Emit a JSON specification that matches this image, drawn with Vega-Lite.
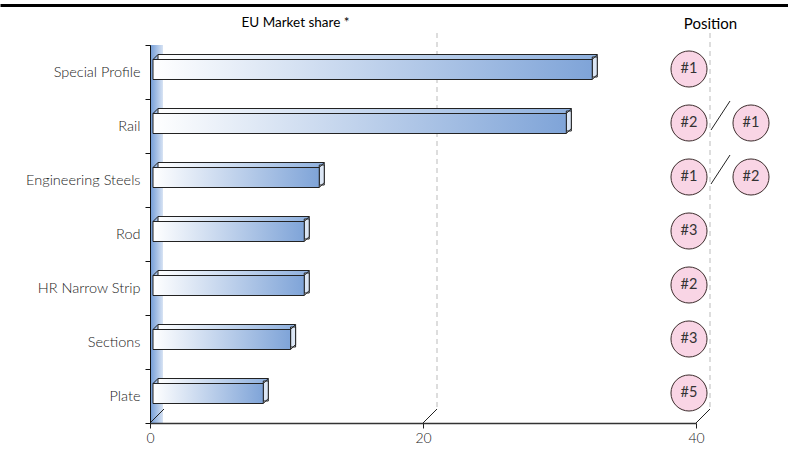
{
  "$schema": "https://vega.github.io/schema/vega-lite/v6.json",
  "width": 546,
  "height": 378,
  "autosize": {"type": "none"},
  "padding": {"left": 150, "top": 45, "right": 92, "bottom": 30},
  "background": "white",
  "config": {"font": "Lato", "view": {"stroke": null}},
  "datasets": {
    "bars": [
      {"cat": "Special  Profile", "share": 32.4},
      {"cat": "Rail", "share": 30.5},
      {"cat": "Engineering Steels", "share": 12.4},
      {"cat": "Rod ", "share": 11.3},
      {"cat": "HR Narrow Strip", "share": 11.3},
      {"cat": "Sections", "share": 10.3},
      {"cat": "Plate", "share": 8.3}
    ],
    "positions": [
      {"cat": "Special  Profile", "col": 1, "label": "#1"},
      {"cat": "Rail", "col": 1, "label": "#2"},
      {"cat": "Rail", "col": 2, "label": "#1"},
      {"cat": "Engineering Steels", "col": 1, "label": "#1"},
      {"cat": "Engineering Steels", "col": 2, "label": "#2"},
      {"cat": "Rod ", "col": 1, "label": "#3"},
      {"cat": "HR Narrow Strip", "col": 1, "label": "#2"},
      {"cat": "Sections", "col": 1, "label": "#3"},
      {"cat": "Plate", "col": 1, "label": "#5"}
    ],
    "grid": [{"v": 20}, {"v": 40}],
    "floor": [{"v": 0}, {"v": 20}, {"v": 40}]
  },
  "layer": [
    {
      "data": {"values": [{}]},
      "mark": {"type": "rule", "opacity": 0},
      "encoding": {
        "x": {
          "datum": 0,
          "type": "quantitative",
          "scale": {"domain": [0, 1], "range": [-150, 638], "nice": false, "zero": false},
          "axis": {
            "orient": "top", "offset": 40, "domainWidth": 3, "domainColor": "#000000",
            "ticks": false, "labels": false, "grid": false,
            "title": "EU Market share *", "titleX": 145, "titleY": 17,
            "titleAlign": "center", "titleBaseline": "middle",
            "titleFont": "Lato", "titleFontSize": 13.5, "titleFontWeight": "normal", "titleColor": "#000000"
          }
        }
      }
    },
    {
      "layer": [
        {
          "data": {"values": [{}]},
          "mark": {
            "type": "rect",
            "fill": {"x1": 0, "y1": 0, "x2": 1, "y2": 0, "gradient": "linear",
              "stops": [{"offset": 0, "color": "#6f9ad6"}, {"offset": 1, "color": "#d6e2f3"}]}
          },
          "encoding": {
            "x": {"datum": 0, "type": "quantitative"},
            "x2": {"datum": 0.95}
          }
        },
        {
          "data": {"name": "grid"},
          "mark": {"type": "rule", "color": "#bbbbbb", "strokeDash": [5, 4], "xOffset": 14, "x2Offset": 14, "yOffset": -12, "y2Offset": -14},
          "encoding": {
            "x": {"field": "v", "type": "quantitative"},
            "y": {"datum": "Special  Profile", "type": "nominal", "bandPosition": 0},
            "y2": {"datum": "Plate", "bandPosition": 1}
          }
        },
        {
          "data": {"name": "floor"},
          "mark": {"type": "rule", "color": "#222222", "x2Offset": 14, "y2Offset": -14},
          "encoding": {
            "x": {"field": "v", "type": "quantitative"},
            "x2": {"field": "v"},
            "y": {"datum": "Plate", "type": "nominal", "bandPosition": 1},
            "y2": {"datum": "Plate", "bandPosition": 1}
          }
        },
        {
          "data": {"name": "bars"},
          "mark": {
            "type": "bar", "height": 20, "yOffset": -7.5, "xOffset": 5, "x2Offset": 8,
            "stroke": "#222222", "strokeWidth": 1,
            "fill": {"x1": 0, "y1": 0, "x2": 1, "y2": 0, "gradient": "linear",
              "stops": [{"offset": 0, "color": "#ffffff"}, {"offset": 1, "color": "#8eb0de"}]}
          },
          "encoding": {
            "x": {
              "field": "share", "type": "quantitative",
              "scale": {"domain": [0, 40], "nice": false},
              "axis": {
                "orient": "bottom", "values": [0, 20, 40], "grid": false, "title": null,
                "zindex": 1, "domain": true, "domainWidth": 1.5, "labelFlush": false,
                "tickSize": 5, "domainColor": "#333333", "tickColor": "#222222",
                "labelFont": "Lato", "labelFontSize": 14, "labelFontWeight": 300, "labelColor": "#222222", "labelPadding": 3
              }
            },
            "x2": {"datum": 0},
            "y": {
              "field": "cat", "type": "nominal",
              "scale": {
                "domain": ["Special  Profile", "Rail", "Engineering Steels", "Rod ", "HR Narrow Strip", "Sections", "Plate"],
                "paddingInner": 0, "paddingOuter": 0
              },
              "axis": {
                "title": null, "tickBand": "extent", "tickSize": 5, "zindex": 1,
                "domain": true, "domainWidth": 1,
                "domainColor": "#111111", "tickColor": "#111111",
                "labelFont": "Lato", "labelFontSize": 14.5, "labelFontWeight": 300, "labelColor": "#1a1a1a", "labelPadding": 5
              }
            }
          }
        },
        {
          "data": {"name": "bars"},
          "mark": {"type": "bar", "height": 20, "yOffset": -5, "x2Offset": 5, "fill": "#dbe6f5", "stroke": "#222222", "strokeWidth": 1},
          "encoding": {
            "x": {"field": "share", "type": "quantitative"},
            "x2": {"field": "share"},
            "y": {"field": "cat", "type": "nominal"}
          }
        },
        {
          "data": {"name": "bars"},
          "mark": {
            "type": "bar", "height": 20, "yOffset": -2.5, "x2Offset": 3,
            "stroke": "#222222", "strokeWidth": 1,
            "fill": {"x1": 0, "y1": 0, "x2": 1, "y2": 0, "gradient": "linear",
              "stops": [{"offset": 0, "color": "#ffffff"}, {"offset": 1, "color": "#7fa4d8"}]}
          },
          "encoding": {
            "x": {"field": "share", "type": "quantitative"},
            "x2": {"datum": 0},
            "y": {"field": "cat", "type": "nominal"}
          }
        },
        {
          "data": {"name": "bars"},
          "mark": {"type": "rule", "color": "#222222", "x2Offset": 5, "yOffset": -12.5, "y2Offset": -17.5},
          "encoding": {
            "x": {"field": "share", "type": "quantitative"},
            "x2": {"field": "share"},
            "y": {"field": "cat", "type": "nominal"},
            "y2": {"field": "cat"}
          }
        },
        {
          "data": {"name": "bars"},
          "mark": {"type": "rule", "color": "#222222", "x2Offset": 5, "yOffset": 7.5, "y2Offset": 2.5},
          "encoding": {
            "x": {"field": "share", "type": "quantitative"},
            "x2": {"field": "share"},
            "y": {"field": "cat", "type": "nominal"},
            "y2": {"field": "cat"}
          }
        },
        {
          "data": {"name": "bars"},
          "mark": {"type": "rule", "color": "#222222", "xOffset": 3, "x2Offset": 8, "yOffset": -12.5, "y2Offset": -17.5},
          "encoding": {
            "x": {"datum": 0, "type": "quantitative"},
            "x2": {"datum": 0},
            "y": {"field": "cat", "type": "nominal"},
            "y2": {"field": "cat"}
          }
        }
      ]
    },
    {
      "data": {"name": "positions"},
      "layer": [
        {
          "transform": [{"filter": "datum.col == 2"}],
          "mark": {"type": "rule", "color": "#222222", "xOffset": -9, "x2Offset": 10, "yOffset": 4, "y2Offset": -25},
          "encoding": {
            "x": {"datum": 1.5, "type": "quantitative"},
            "x2": {"datum": 1.5},
            "y": {"field": "cat", "type": "nominal"},
            "y2": {"field": "cat"}
          }
        },
        {
          "mark": {"type": "point", "shape": "circle", "filled": true, "size": 1300, "fill": "#f9d5e5", "stroke": "#3b2b2b", "strokeWidth": 1, "opacity": 1, "yOffset": -3},
          "encoding": {
            "x": {
              "field": "col", "type": "quantitative",
              "scale": {"domain": [1, 2], "range": [539, 601], "nice": false, "zero": false},
              "axis": {
                "orient": "top", "domain": false, "ticks": false, "labels": false, "grid": false,
                "title": "Position", "titleX": 560, "titleY": -22,
                "titleAlign": "center", "titleBaseline": "middle",
                "titleFont": "Lato", "titleFontSize": 15, "titleFontWeight": "normal", "titleColor": "#000000"
              }
            },
            "y": {"field": "cat", "type": "nominal"}
          }
        },
        {
          "mark": {"type": "text", "font": "Lato", "fontSize": 14.5, "fontWeight": "normal", "color": "#333333", "yOffset": -3},
          "encoding": {
            "x": {"field": "col", "type": "quantitative"},
            "y": {"field": "cat", "type": "nominal"},
            "text": {"field": "label"}
          }
        }
      ]
    }
  ],
  "resolve": {"scale": {"x": "independent"}, "axis": {"x": "independent"}}
}
